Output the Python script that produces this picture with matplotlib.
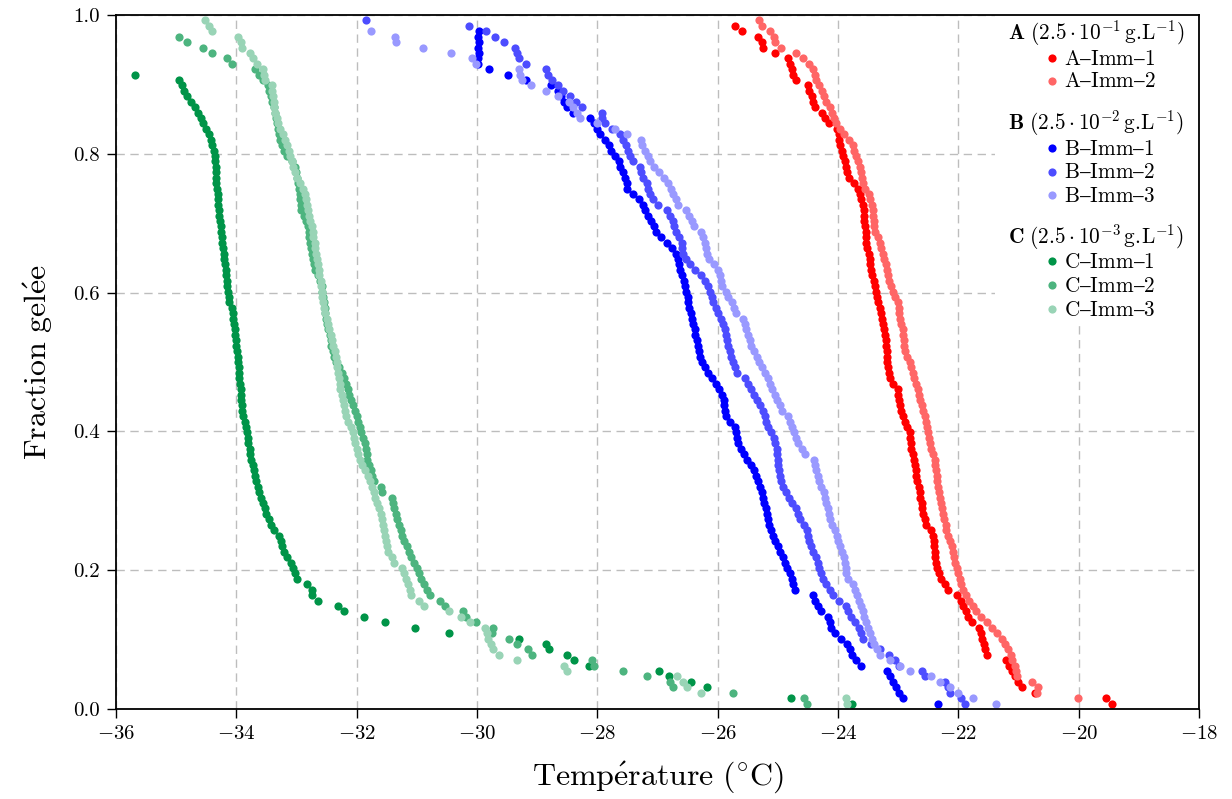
import numpy as np
import matplotlib
matplotlib.use("Agg")
import matplotlib.pyplot as plt
from matplotlib.patches import Rectangle

nan = float("nan")

# ---------------- data (temperature in °C, ordered by rank of freezing) ----------------
N_DROPLETS = 128  # frozen fraction = rank / N_DROPLETS

A_Imm_1 = [-19.45, -19.54, -20.73, -20.95, -21.01, -21.06, -21.10, -21.15, -21.20, -21.53,
           -21.56, -21.58, -21.61, -21.63, -21.66, -21.78, -21.84, -21.88, -21.92, -21.96,
           -22.03, -22.17, -22.22, -22.28, -22.32, -22.36, -22.37, -22.38, -22.39, -22.40,
           -22.41, -22.42, -22.46, -22.53, -22.56, -22.58, -22.60, -22.61, -22.63, -22.64,
           -22.66, -22.69, -22.70, -22.71, -22.72, -22.74, -22.76, -22.78, -22.79, -22.80,
           -22.81, -22.85, -22.89, -22.92, -22.95, -22.97, -22.99, -23.00, -23.01, -23.08,
           -23.13, -23.16, -23.17, -23.18, -23.19, -23.19, -23.20, -23.21, -23.22, -23.23,
           -23.25, -23.27, -23.29, -23.31, -23.33, -23.36, -23.37, -23.38, -23.40, -23.43,
           -23.45, -23.46, -23.47, -23.49, -23.51, -23.53, -23.54, -23.54, -23.55, -23.56,
           -23.56, -23.57, -23.59, -23.61, -23.64, -23.67, -23.74, -23.81, -23.85, -23.87,
           -23.89, -23.91, -23.94, -23.96, -23.98, -23.99, -24.02, -24.15, -24.22, -24.27,
           -24.38, -24.41, -24.44, -24.48, -24.50, -24.70, -24.75, -24.77, -24.80, -24.83,
           -25.05, -25.24, -25.27, -25.33, -25.59, -25.71]

A_Imm_2 = [nan, -20.01, -20.70, -20.67, -20.78, -21.03, -21.04, -21.06, -21.10, -21.13,
           -21.18, -21.22, -21.27, -21.36, -21.44, -21.52, -21.62, -21.70, -21.75, -21.83,
           -21.88, -21.92, -21.96, -21.98, -22.00, -22.03, -22.06, -22.07, -22.09, -22.11,
           -22.14, -22.18, -22.20, -22.21, -22.23, -22.25, -22.27, -22.28, -22.30, -22.32,
           -22.33, -22.35, -22.36, -22.37, -22.38, -22.39, -22.42, -22.45, -22.47, -22.49,
           -22.51, -22.52, -22.53, -22.56, -22.59, -22.61, -22.63, -22.65, -22.67, -22.71,
           -22.74, -22.76, -22.78, -22.81, -22.85, -22.89, -22.90, -22.91, -22.92, -22.92,
           -22.95, -22.97, -22.98, -22.99, -23.00, -23.06, -23.09, -23.12, -23.15, -23.17,
           -23.19, -23.21, -23.24, -23.26, -23.28, -23.30, -23.34, -23.38, -23.40, -23.40,
           -23.41, -23.41, -23.44, -23.46, -23.49, -23.55, -23.58, -23.60, -23.61, -23.64,
           -23.67, -23.70, -23.73, -23.75, -23.82, -23.90, -23.97, -24.03, -24.06, -24.10,
           -24.14, -24.20, -24.24, -24.27, -24.32, -24.36, -24.38, -24.41, -24.49, -24.58,
           -24.69, -24.94, -25.05, -25.06, -25.13, -25.27, -25.31]

B_Imm_1 = [-22.33, -22.92, -22.98, -23.03, -23.08, -23.14, -23.19, -23.61, -23.70, -23.77,
           -23.80, -23.85, -23.95, -24.05, -24.11, -24.13, -24.16, -24.28, -24.33, -24.38,
           -24.41, -24.71, -24.75, -24.77, -24.80, -24.84, -24.88, -24.92, -24.96, -25.00,
           -25.05, -25.08, -25.11, -25.14, -25.16, -25.18, -25.20, -25.23, -25.25, -25.27,
           -25.30, -25.33, -25.36, -25.39, -25.45, -25.52, -25.56, -25.61, -25.66, -25.68,
           -25.70, -25.72, -25.80, -25.86, -25.88, -25.89, -25.90, -25.93, -25.98, -26.02,
           -26.10, -26.16, -26.21, -26.26, -26.29, -26.31, -26.33, -26.35, -26.37, -26.38,
           -26.41, -26.43, -26.45, -26.47, -26.49, -26.50, -26.52, -26.54, -26.56, -26.60,
           -26.63, -26.65, -26.66, -26.69, -26.76, -26.84, -26.95, -27.03, -27.06, -27.10,
           -27.16, -27.21, -27.24, -27.30, -27.40, -27.50, -27.51, -27.54, -27.57, -27.62,
           -27.64, -27.70, -27.78, -27.81, -27.88, -27.96, -28.00, -28.06, -28.12, -28.40,
           -28.51, -28.55, -28.60, -28.65, -28.77, -29.19, -29.48, -29.80, -29.98, -29.98,
           -29.97, -29.98, -29.97, -29.98, -29.97]

B_Imm_2 = [-21.89, -21.95, -22.14, -22.18, -22.22, -22.56, -22.60, -22.98, -23.05, -23.16,
           -23.30, -23.45, -23.58, -23.62, -23.65, -23.72, -23.78, -23.84, -23.87, -23.99,
           -24.08, -24.13, -24.20, -24.25, -24.28, -24.31, -24.34, -24.36, -24.41, -24.45,
           -24.48, -24.50, -24.51, -24.57, -24.63, -24.66, -24.69, -24.76, -24.82, -24.86,
           -24.91, -24.95, -24.97, -24.98, -24.99, -25.00, -25.01, -25.02, -25.04, -25.06,
           -25.11, -25.16, -25.19, -25.21, -25.24, -25.30, -25.35, -25.40, -25.45, -25.49,
           -25.55, -25.68, -25.72, -25.75, -25.78, -25.80, -25.82, -25.84, -25.86, -25.88,
           -25.91, -25.95, -25.99, -26.03, -26.07, -26.10, -26.13, -26.16, -26.21, -26.28,
           -26.38, -26.46, -26.52, -26.57, -26.59, -26.60, -26.65, -26.70, -26.72, -26.74,
           -26.80, -26.85, -27.00, -27.07, -27.12, -27.16, -27.18, -27.24, -27.27, -27.29,
           -27.40, -27.46, -27.49, -27.52, -27.58, -27.63, -27.75, -27.88, -27.92, -27.93,
           -28.25, -28.35, -28.46, -28.57, -28.65, -28.75, -28.82, -28.85, -29.18, -29.30,
           -29.33, -29.37, -29.55, -29.70, -29.85, -30.13, -31.85]

B_Imm_3 = [-21.38, -21.75, -22.00, -22.14, -22.30, -22.45, -22.80, -22.97, -23.14, -23.30,
           -23.35, -23.40, -23.44, -23.47, -23.50, -23.53, -23.56, -23.59, -23.62, -23.65,
           -23.68, -23.72, -23.75, -23.84, -23.86, -23.87, -23.88, -23.90, -23.93, -23.97,
           -24.00, -24.02, -24.05, -24.10, -24.13, -24.15, -24.17, -24.20, -24.22, -24.24,
           -24.28, -24.31, -24.33, -24.36, -24.38, -24.40, -24.55, -24.60, -24.66, -24.69,
           -24.73, -24.77, -24.80, -24.83, -24.93, -24.97, -25.01, -25.05, -25.09, -25.13,
           -25.17, -25.22, -25.27, -25.31, -25.35, -25.40, -25.44, -25.47, -25.50, -25.53,
           -25.55, -25.58, -25.70, -25.73, -25.77, -25.82, -25.86, -25.92, -25.94, -25.96,
           -26.00, -26.06, -26.15, -26.18, -26.20, -26.21, -26.24, -26.27, -26.40, -26.43,
           -26.48, -26.52, -26.66, -26.70, -26.74, -26.78, -26.83, -26.89, -26.97, -27.05,
           -27.13, -27.16, -27.20, -27.25, -27.28, -27.50, -27.70, -28.00, -28.28, -28.33,
           -28.40, -28.47, -28.65, -28.85, -29.10, -29.25, -29.29, -29.31, -30.01, -30.09,
           -30.43, -30.89, -31.34, -31.36, -31.76]

C_Imm_1 = [-23.76, -24.78, nan, -26.17, -26.45, -26.81, -26.98, -28.14, -28.39, -28.50,
           -28.80, -28.86, -29.31, -30.46, -31.03, -31.53, -31.87, -32.21, -32.31, -32.64,
           -32.75, -32.74, -32.82, -33.00, -33.03, -33.06, -33.09, -33.15, -33.21, -33.24,
           -33.26, -33.29, -33.38, -33.42, -33.46, -33.50, -33.53, -33.56, -33.59, -33.62,
           -33.64, -33.67, -33.69, -33.71, -33.73, -33.75, -33.77, -33.78, -33.80, -33.81,
           -33.83, -33.84, -33.86, -33.89, -33.91, -33.91, -33.92, -33.93, -33.93, -33.94,
           -33.95, -33.95, -33.96, -33.97, -33.98, -33.99, -34.00, -34.01, -34.02, -34.03,
           -34.04, -34.05, -34.06, -34.08, -34.12, -34.13, -34.14, -34.15, -34.16, -34.17,
           -34.18, -34.19, -34.20, -34.21, -34.22, -34.23, -34.24, -34.25, -34.26, -34.27,
           -34.28, -34.29, -34.30, -34.31, -34.31, -34.32, -34.33, -34.33, -34.34, -34.34,
           -34.35, -34.35, -34.37, -34.40, -34.42, -34.45, -34.50, -34.55, -34.59, -34.64,
           -34.69, -34.76, -34.82, -34.87, -34.91, -34.96, -35.68]

C_Imm_2 = [-24.52, -24.56, -25.74, -26.75, -26.79, -27.17, -27.57, -28.06, -28.09, -29.09,
           -29.15, -29.34, -29.47, -29.75, -29.73, -30.01, -30.18, -30.24, -30.53, -30.62,
           -30.78, -30.83, -30.88, -30.93, -30.96, -31.00, -31.04, -31.09, -31.13, -31.17,
           -31.21, -31.24, -31.27, -31.30, -31.33, -31.35, -31.38, -31.40, -31.42, -31.58,
           -31.59, -31.72, -31.74, -31.77, -31.80, -31.82, -31.83, -31.84, -31.86, -31.89,
           -31.92, -31.95, -31.98, -32.00, -32.03, -32.06, -32.09, -32.12, -32.14, -32.17,
           -32.21, -32.25, -32.30, -32.35, -32.38, -32.40, -32.42, -32.43, -32.44, -32.47,
           -32.49, -32.51, -32.52, -32.53, -32.55, -32.56, -32.57, -32.58, -32.61, -32.65,
           -32.69, -32.71, -32.72, -32.74, -32.76, -32.78, -32.79, -32.80, -32.81, -32.84,
           -32.88, -32.92, -32.93, -32.94, -32.95, -32.96, -32.97, -32.99, -33.01, -33.03,
           -33.07, -33.15, -33.20, -33.24, -33.27, -33.29, -33.31, -33.33, -33.34, -33.35,
           -33.37, -33.40, -33.43, -33.46, -33.48, -33.56, -33.63, -33.69, -34.07, -34.16,
           -34.41, -34.56, -34.82, -34.96]

C_Imm_3 = [-23.85, -23.87, -26.28, -26.51, -26.58, -26.68, -28.51, -28.56, -29.34, -29.63,
           -29.73, -29.76, -29.81, -29.84, -29.87, -30.12, -30.26, -30.46, -30.88, -30.96,
           -31.09, -31.12, -31.15, -31.18, -31.21, -31.25, -31.38, -31.42, -31.48, -31.50,
           -31.52, -31.53, -31.55, -31.57, -31.58, -31.60, -31.63, -31.66, -31.69, -31.72,
           -31.75, -31.78, -31.81, -31.86, -31.91, -31.95, -31.98, -32.00, -32.02, -32.04,
           -32.06, -32.10, -32.14, -32.17, -32.19, -32.21, -32.23, -32.25, -32.27, -32.28,
           -32.30, -32.31, -32.32, -32.33, -32.34, -32.36, -32.39, -32.41, -32.43, -32.46,
           -32.48, -32.50, -32.52, -32.54, -32.56, -32.57, -32.58, -32.59, -32.60, -32.62,
           -32.63, -32.65, -32.66, -32.67, -32.69, -32.70, -32.72, -32.73, -32.75, -32.77,
           -32.79, -32.81, -32.83, -32.84, -32.86, -32.90, -32.95, -32.99, -33.02, -33.05,
           -33.08, -33.10, -33.12, -33.15, -33.19, -33.23, -33.27, -33.30, -33.33, -33.36,
           -33.37, -33.38, -33.39, -33.40, -33.41, -33.52, -33.54, -33.55, -33.66, -33.73,
           -33.77, -33.90, -33.93, -33.97, -34.40, -34.46, -34.52]

series_names = ["A–Imm–1", "A–Imm–2", "B–Imm–1", "B–Imm–2", "B–Imm–3",
                "C–Imm–1", "C–Imm–2", "C–Imm–3"]
series_data = [A_Imm_1, A_Imm_2, B_Imm_1, B_Imm_2, B_Imm_3, C_Imm_1, C_Imm_2, C_Imm_3]
series_colors = ["#ff0000", "#ff6666", "#0000ff", "#4d4dff", "#9999ff",
                 "#009448", "#4db47f", "#99d4b6"]

group_titles = [r"$\mathbf{A}\ (2.5\cdot 10^{-1}\,\mathrm{g.\!L}^{-1})$",
                r"$\mathbf{B}\ (2.5\cdot 10^{-2}\,\mathrm{g.\!L}^{-1})$",
                r"$\mathbf{C}\ (2.5\cdot 10^{-3}\,\mathrm{g.\!L}^{-1})$"]
group_members = [[0, 1], [2, 3, 4], [5, 6, 7]]

x_ticks = [-36, -34, -32, -30, -28, -26, -24, -22, -20, -18]
y_ticks = [0.0, 0.2, 0.4, 0.6, 0.8, 1.0]

# ---------------- style ----------------
plt.rcParams["font.family"] = "serif"
plt.rcParams["font.serif"] = ["cmr10", "DejaVu Serif"]
plt.rcParams["mathtext.fontset"] = "cm"
plt.rcParams["axes.formatter.use_mathtext"] = True

fig = plt.figure(figsize=(12.32, 7.99), dpi=100)
ax = fig.add_axes([116 / 1232, 1 - 709 / 799, (1199 - 116) / 1232, (709 - 15) / 799])

MS = 5.9
for T, c in zip(series_data, series_colors):
    T = np.asarray(T, dtype=float)
    frac = np.arange(1, len(T) + 1) / N_DROPLETS
    ax.plot(T, frac, ls="none", marker="o", ms=MS, mec="none", mfc=c, zorder=3)

ax.set_xlim(-36, -18)
ax.set_ylim(0, 1)
ax.set_xticks(x_ticks)
ax.set_yticks(y_ticks)
ax.set_yticklabels([f"{v:.1f}" for v in y_ticks])
ax.grid(True, ls=(0, (6, 4)), color="#bdbdbd", lw=1.0, zorder=0)
ax.set_axisbelow(True)
for s in ax.spines.values():
    s.set_linewidth(1.3)
    s.set_zorder(10)
ax.tick_params(direction="out", length=6.5, width=1.0, labelsize=15, pad=5,
               top=False, right=False)

ax.set_xlabel(r"$\mathrm{Temp\acute{e}rature\ (^{\circ}C)}$", fontsize=23, labelpad=12)
ax.set_ylabel(r"$\mathrm{Fraction\ gel\acute{e}e}$", fontsize=23, labelpad=13)

# ---------------- legend (grouped, drawn in axes coordinates) ----------------
def ax_x(px):
    return (px - 116) / 1083.0

def ax_y(py):
    return (709 - py) / 694.0

ax.add_patch(Rectangle((ax_x(995), ax_y(322)), 1 - ax_x(995), 1 - ax_y(322),
                       transform=ax.transAxes, facecolor="white", edgecolor="none",
                       zorder=5, clip_on=False))

LEG_FS = 15.3
header_baselines = [40, 129.3, 243.3]
item_baselines = [[65, 87.3], [155, 178.3, 202], [268.3, 291.7, 315.7]]
for title, members, hb, ibs in zip(group_titles, group_members, header_baselines, item_baselines):
    ax.text(ax_x(1008), ax_y(hb), title, transform=ax.transAxes, fontsize=LEG_FS,
            ha="left", va="baseline", zorder=6)
    for idx, b in zip(members, ibs):
        ax.plot([ax_x(1052)], [ax_y(b - 6.8)], transform=ax.transAxes, ls="none",
                marker="o", ms=MS, mec="none", mfc=series_colors[idx],
                clip_on=False, zorder=6)
        ax.text(ax_x(1064), ax_y(b), r"$\mathrm{" + series_names[idx] + "}$",
                transform=ax.transAxes, fontsize=LEG_FS, ha="left", va="baseline", zorder=6)

fig.savefig("out.png", dpi=100)
